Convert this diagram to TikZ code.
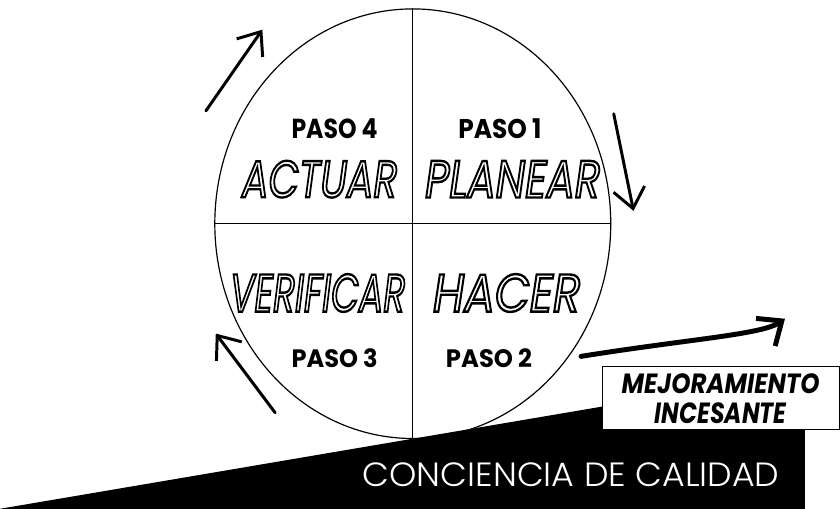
\documentclass[tikz,border=0pt]{standalone}
\usepackage{fontspec}
\usepackage{graphicx}
\usetikzlibrary{arrows.meta,shapes.geometric}
\newfontfamily\geofont{Poppins}
\newfontfamily\finafont{Poppins Light}
% texto hueco: solo contorno
\newcommand{\hueca}[3]{\resizebox{#1}{#2}{\special{pdf:literal direct 1 Tr 1.8 w}#3\special{pdf:literal direct 0 Tr}}}
\tikzset{
  paso/.style={inner sep=0pt,font=\geofont\bfseries\fontsize{28}{28}\selectfont},
  hueco/.style={inner sep=0pt,font=\geofont\itshape\fontsize{40}{40}\selectfont},
  flecha/.style={line width=3pt,line cap=round,-{Straight Barb[length=20pt,width=32pt]}}
}

\begin{document}
\begin{tikzpicture}[x=1pt,y=-1pt]
  \fill[white] (0,0) rectangle (840,513);

  % Base
  \fill[black] (0,514) -- (813,376) -- (813,514) -- cycle;
  \node[draw=black,fill=white,line width=0.6pt,anchor=north west,inner sep=0pt,
        minimum width=240pt,minimum height=63pt] (caja) at (608,370) {};
  \node[inner sep=0pt,font=\geofont\bfseries\itshape] (mejora) at (728,388)
    {\resizebox{200pt}{20pt}{MEJORAMIENTO}};
  \node[inner sep=0pt,font=\geofont\bfseries\itshape] (incesante) at (728,417)
    {\resizebox{133pt}{21pt}{INCESANTE}};
  \node[inner sep=0pt,text=white,font=\finafont] (conciencia) at (577,480)
    {\resizebox{421pt}{24pt}{CONCIENCIA DE CALIDAD}};

  % Ciclo
  \node[draw,ellipse,line width=1.2pt,minimum width=400pt,minimum height=434pt,inner sep=0pt]
    (ciclo) at (417,226) {};
  \draw[line width=1.2pt] (ciclo.north) -- (ciclo.south);
  \draw[line width=1.2pt] (ciclo.west) -- (ciclo.east);

  % Pasos
  \node[paso] (p4) at (338,130) {\resizebox{87pt}{20pt}{PASO 4}};
  \node[paso] (p1) at (505,130) {\resizebox{84pt}{20pt}{PASO 1}};
  \node[paso] (p3) at (338,362) {\resizebox{87pt}{19pt}{PASO 3}};
  \node[paso] (p2) at (494,362) {\resizebox{87pt}{19pt}{PASO 2}};
  \node[hueco] (actuar) at (323,181) {\hueca{157pt}{37pt}{ACTUAR}};
  \node[hueco] (planear) at (518,181) {\hueca{177pt}{37pt}{PLANEAR}};
  \node[hueco] (verificar) at (321,296) {\hueca{177pt}{38pt}{VERIFICAR}};
  \node[hueco] (hacer) at (512,296) {\hueca{149pt}{38pt}{HACER}};

  % Flechas
  \coordinate (f4a) at (208,112);  \coordinate (f4b) at (265,30);
  \coordinate (f1a) at (620,115);  \coordinate (f1b) at (640,213);
  \coordinate (f3a) at (278,417);  \coordinate (f3b) at (218,337);
  \coordinate (fma) at (587,360);  \coordinate (fmb) at (793,322);
  \draw[flecha] (f4a) -- (f4b);
  \draw[flecha] (f1a) -- (f1b);
  \draw[flecha] (f3a) -- (f3b);
  \draw[flecha,line width=5pt,-{Straight Barb[length=20pt,width=34pt]}]
    (fma) .. controls (700,342) and (770,338) .. (fmb);
\end{tikzpicture}
\end{document}
